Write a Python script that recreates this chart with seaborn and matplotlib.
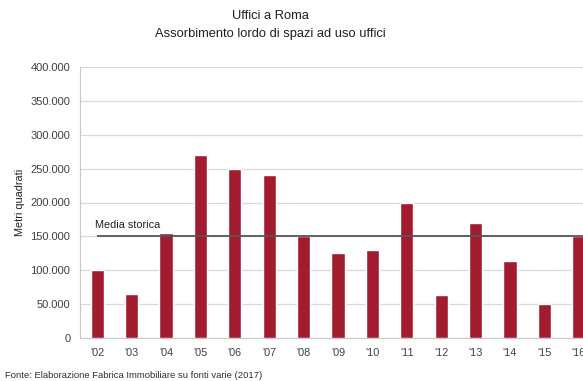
import matplotlib
matplotlib.use("Agg")
import matplotlib.pyplot as plt
import seaborn as sns
import pandas as pd
import numpy as np

years = ["'02", "'03", "'04", "'05", "'06", "'07", "'08", "'09", "'10", "'11", "'12", "'13", "'14", "'15", "'16"]
values = [100000, 65000, 155000, 270000, 250000, 240000, 150000, 125000, 130000, 200000, 63000, 170000, 113000, 50000, 150000]
media_storica = 150000
yticks = [0, 50000, 100000, 150000, 200000, 250000, 300000, 350000, 400000]

sns.set_style("white")
plt.rcParams['font.family'] = ['Liberation Sans', 'DejaVu Sans']

df = pd.DataFrame({"anno": years, "mq": values})

fig = plt.figure(figsize=(5.83, 3.81), dpi=100)
ax = fig.add_axes([80/583, 1-338/381, (596-80)/583, (338-67)/381])

sns.barplot(data=df, x="anno", y="mq", color="#A11C2E", saturation=1, width=0.38, ax=ax, zorder=3)

ax.set_ylim(0, 400000)
ax.set_xlim(-0.5, len(years)-0.5)
ax.set_yticks(yticks)
ax.set_yticklabels([f"{v:,}".replace(",", ".") for v in yticks], color="#404040", fontsize=8)
ax.tick_params(axis='y', length=0, pad=7)
ax.tick_params(axis='x', length=0, pad=7, labelsize=7.8, labelcolor="#404040")
ax.set_xticks(np.arange(-0.5, len(years), 1.0), minor=True)
ax.tick_params(axis='x', which='minor', length=4, color="#c8c8c8", width=0.8, direction='out')
ax.grid(axis='y', color="#d9d9d9", linewidth=0.9, zorder=0)
ax.set_axisbelow(True)
for s in ["top", "right"]:
    ax.spines[s].set_visible(False)
ax.spines["left"].set_color("#c8c8c8")
ax.spines["bottom"].set_color("#c8c8c8")
ax.spines["left"].set_linewidth(0.8)
ax.spines["bottom"].set_linewidth(0.8)

ax.set_xlabel("")
ax.set_ylabel("Metri quadrati", fontsize=7.8, color="#202020", labelpad=4)

ax.hlines(media_storica, 0, len(years)+1, color="#555555", linewidth=1.3, zorder=4)
ax.text(-0.05, media_storica + 9000, "Media storica", fontsize=7.8, color="#202020", ha="left", va="bottom")

fig.text(270/583, 1-16/381, "Uffici a Roma", ha="center", va="center", fontsize=9.3, color="#202020")
fig.text(270/583, 1-34/381, "Assorbimento lordo di spazi ad uso uffici", ha="center", va="center", fontsize=9.3, color="#202020")
fig.text(5/583, 1-376/381, "Fonte: Elaborazione Fabrica Immobiliare su fonti varie (2017)", ha="left", va="center", fontsize=6.8, color="#303030")

fig.savefig("out.png", dpi=100)
